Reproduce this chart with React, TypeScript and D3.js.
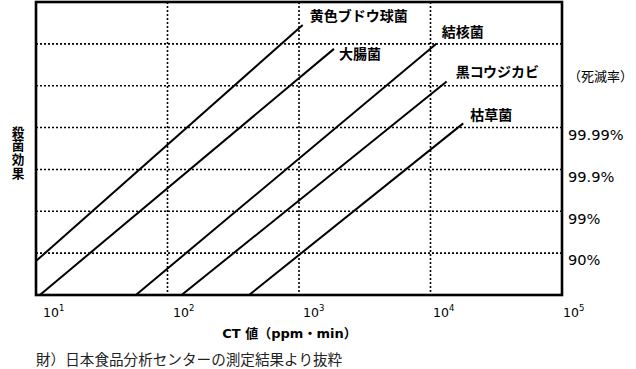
import React from "react";
import * as d3 from "d3";

// ---- data ----
const categories = ["黄色ブドウ球菌", "大腸菌", "結核菌", "黒コウジカビ", "枯草菌"];
const startCT = [10, 10.7, 57.5, 128, 417];
const startLevel = [0.81, 0, 0, 0, 0];
const endCT = [1067, 1845, 11140, 13270, 17740];
const endLevel = [6.45, 5.88, 6.01, 5.1, 4.1];
const xTicks = [10, 100, 1000, 10000, 100000];
const xTickExp = ["1", "2", "3", "4", "5"];
const yGridLevels = [1, 2, 3, 4, 5, 6];
const rateLevels = [1, 2, 3, 4];
const rateLabels = ["90%", "99%", "99.9%", "99.99%"];
const rateHeader = "（死滅率）";
const yTitle = "殺菌効果";
const xTitle = "CT 値（ppm・min）";
const footnote = "財）日本食品分析センターの測定結果より抜粋";

// ---- layout ----
const W = 636;
const H = 369;
const labelDy = [-9, 5, -11, -10, -8];
const labelDx = [7, 5, 5, 9, 7];

const JP = "'Noto Sans CJK JP', 'DejaVu Sans', sans-serif";
const LAT = "'DejaVu Sans', 'Noto Sans CJK JP', sans-serif";

export default function App() {
  const x = d3.scaleLog().domain([10, 100000]).range([36, 562]);
  const y = d3.scaleLinear().domain([0, 7]).range([295, 2]);
  const line = d3
    .line<[number, number]>()
    .x((d) => x(d[0]))
    .y((d) => y(d[1]));

  return (
    <svg
      width={W}
      height={H}
      style={{ position: "absolute", left: 0, top: 0, background: "#fff" }}
    >
      <rect x={0} y={0} width={W} height={H} fill="#fff" />
      {/* horizontal grid */}
      {yGridLevels.map((l) => (
        <line
          key={"h" + l}
          x1={x(10)}
          x2={x(100000)}
          y1={y(l)}
          y2={y(l)}
          stroke="#000"
          strokeWidth={1.6}
          strokeDasharray="2,2"
        />
      ))}
      {/* vertical grid */}
      {xTicks.slice(1, -1).map((t) => (
        <line
          key={"v" + t}
          x1={x(t)}
          x2={x(t)}
          y1={y(7)}
          y2={y(0)}
          stroke="#000"
          strokeWidth={1.6}
          strokeDasharray="2,2"
        />
      ))}
      {/* series lines */}
      {categories.map((c, i) => (
        <path
          key={c}
          d={
            line([
              [startCT[i], startLevel[i]],
              [endCT[i], endLevel[i]],
            ]) || ""
          }
          stroke="#000"
          strokeWidth={2}
          fill="none"
        />
      ))}
      {/* frame */}
      <rect
        x={x(10)}
        y={y(7)}
        width={x(100000) - x(10)}
        height={y(0) - y(7)}
        fill="none"
        stroke="#000"
        strokeWidth={2.6}
      />
      {/* series labels */}
      {categories.map((c, i) => (
        <text
          key={"l" + c}
          x={x(endCT[i]) + labelDx[i]}
          y={y(endLevel[i]) + labelDy[i]}
          dy="0.36em"
          fontFamily={JP}
          fontWeight="bold"
          fontSize={14}
          fill="#000"
        >
          {c}
        </text>
      ))}
      {/* right rate labels */}
      <text
        x={568}
        y={y(5) - 9}
        dy="0.36em"
        fontFamily={JP}
        fontSize={13}
        fill="#000"
      >
        {rateHeader}
      </text>
      {rateLevels.map((l, i) => (
        <text
          key={"r" + l}
          x={568}
          y={y(l) + 7}
          dy="0.36em"
          fontFamily={LAT}
          fontSize={14.6}
          fill="#000"
        >
          {rateLabels[i]}
        </text>
      ))}
      {/* x tick labels */}
      {xTicks.map((t, i) => (
        <text
          key={"t" + t}
          x={x(t) + 7 - i * 1.5}
          y={317}
          fontFamily={LAT}
          fontSize={12.5}
          fill="#000"
        >
          10
          <tspan dy={-6} fontSize={8.5}>
            {xTickExp[i]}
          </tspan>
        </text>
      ))}
      {/* x title */}
      <text
        x={(231 + 348) / 2}
        y={333}
        dy="0.36em"
        textAnchor="middle"
        fontFamily={LAT}
        fontWeight="bold"
        fontSize={13}
        fill="#000"
      >
        {xTitle}
      </text>
      {/* y title vertical */}
      <text
        x={18}
        y={125.5}
        style={{ writingMode: "vertical-rl" }}
        fontFamily={JP}
        fontWeight="bold"
        fontSize={12.6}
        letterSpacing={1.1}
        fill="#000"
      >
        {yTitle}
      </text>
      {/* footnote */}
      <text
        x={36}
        y={360}
        dy="0.36em"
        fontFamily={JP}
        fontSize={14.6}
        fill="#222"
      >
        {footnote}
      </text>
    </svg>
  );
}
